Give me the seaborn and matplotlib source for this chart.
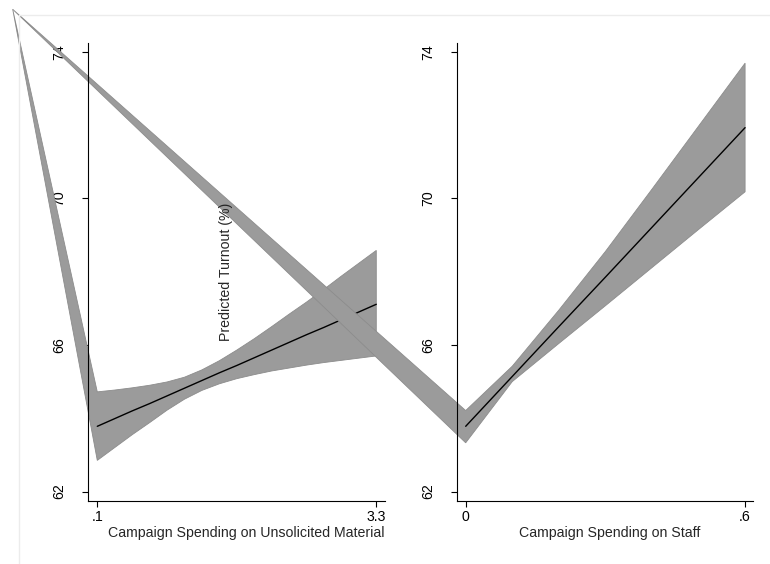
import matplotlib
matplotlib.use("Agg")
import matplotlib.pyplot as plt
import seaborn as sns
import pandas as pd
from matplotlib.patches import Polygon
from matplotlib.lines import Line2D

# Predicted turnout by campaign spending on unsolicited material
material_x = [0.1, 0.3, 0.5, 0.7, 0.9, 1.1, 1.3, 1.5, 1.7, 1.9, 2.1, 2.3, 2.5, 2.7, 2.9, 3.1, 3.3]
material_fit = [63.78, 63.99, 64.20, 64.40, 64.61, 64.82, 65.03, 65.24, 65.44, 65.65,
                65.86, 66.07, 66.28, 66.48, 66.69, 66.90, 67.11]
material_hi = [64.72, 64.77, 64.83, 64.90, 64.99, 65.12, 65.32, 65.57, 65.86, 66.17,
               66.50, 66.84, 67.17, 67.52, 67.88, 68.23, 68.58]
material_lo = [62.85, 63.20, 63.55, 63.88, 64.22, 64.52, 64.76, 64.94, 65.08, 65.19,
               65.29, 65.37, 65.45, 65.52, 65.58, 65.64, 65.70]

# Predicted turnout by campaign spending on staff
staff_x = [0.0, 0.1, 0.2, 0.3, 0.4, 0.5, 0.6]
staff_fit = [63.78, 65.14, 66.50, 67.85, 69.21, 70.57, 71.93]
staff_hi = [64.21, 65.42, 66.95, 68.55, 70.25, 71.97, 73.69]
staff_lo = [63.33, 65.00, 66.04, 67.07, 68.11, 69.15, 70.18]

y_ticks = [62, 66, 70, 74]
material_ticks = [0.1, 3.3]
material_ticklabels = [".1", "3.3"]
staff_ticks = [0.0, 0.6]
staff_ticklabels = ["0", ".6"]

sns.set_style("white")
plt.rcParams["font.family"] = ["Liberation Sans", "DejaVu Sans"]
plt.rcParams["font.size"] = 10.2

W, H = 770, 564
fig = plt.figure(figsize=(W / 100, H / 100), dpi=100)

# faint outer graph-region frame
fig.add_artist(Line2D([19 / W, 19 / W, 1.0], [0.0, 1 - 15 / H, 1 - 15 / H],
                      transform=fig.transFigure, color="#ececec", lw=1.0))

ax1 = fig.add_axes([87.7 / W, 1 - 500.7 / H, 297.3 / W, 457.7 / H])
ax2 = fig.add_axes([456.7 / W, 1 - 500.7 / H, 296.3 / W, 457.7 / H])
ax2.set_facecolor("none")

X1 = (-0.01, 3.40)
X2 = (-0.0193, 0.617)
Y = (61.75, 74.24)
ax1.set_xlim(*X1)
ax2.set_xlim(*X2)
for ax in (ax1, ax2):
    ax.set_ylim(*Y)

# shared stray vertex of the shaded bands (figure fraction)
CORNER = (12.7 / W, 1 - 9.3 / H)


def band_vertices(ax, x, lo, hi):
    corner = ax.transData.inverted().transform(fig.transFigure.transform(CORNER))
    pts = [tuple(corner)]
    pts += list(zip(x, hi))
    pts += list(zip(x[::-1], lo[::-1]))
    return pts


band_face = "#9b9b9b"
band_edge = "#8c8c8c"

p1 = Polygon(band_vertices(ax1, material_x, material_lo, material_hi), closed=True,
             facecolor=band_face, edgecolor=band_edge, lw=0.6, zorder=1, clip_on=False,
             joinstyle="miter")
ax1.add_patch(p1)

df1 = pd.DataFrame({"spend": material_x, "turnout": material_fit})
sns.lineplot(data=df1, x="spend", y="turnout", ax=ax1, color="black", lw=1.0, zorder=2)

# the staff band is drawn over the first panel's line but beneath its axis lines
p2 = Polygon(band_vertices(ax2, staff_x, staff_lo, staff_hi), closed=True,
             facecolor=band_face, edgecolor=band_edge, lw=0.6, zorder=2.2, clip_on=False,
             joinstyle="miter", transform=ax2.transData)
ax1.add_patch(p2)

df2 = pd.DataFrame({"spend": staff_x, "turnout": staff_fit})
sns.lineplot(data=df2, x="spend", y="turnout", ax=ax2, color="black", lw=1.0, zorder=2)

ax1.set_xlim(*X1)
ax2.set_xlim(*X2)
for ax, xt, xtl in ((ax1, material_ticks, material_ticklabels),
                    (ax2, staff_ticks, staff_ticklabels)):
    ax.set_ylim(*Y)
    ax.set(xlabel="", ylabel="")
    ax.set_xticks(xt)
    ax.set_xticklabels(xtl)
    ax.set_yticks(y_ticks)
    ax.set_yticklabels([str(v) for v in y_ticks], rotation=90, va="center")
    for side in ("top", "right"):
        ax.spines[side].set_visible(False)
    for side in ("left", "bottom"):
        ax.spines[side].set_color("black")
        ax.spines[side].set_linewidth(0.8)
    ax.tick_params(axis="y", direction="out", length=4.3, width=0.8, pad=11.5,
                   colors="black", left=True)
    ax.tick_params(axis="x", direction="out", length=4.0, width=0.8, pad=2.5,
                   colors="black", bottom=True)
    ax.grid(False)

fig.text(245.8 / W, 1 - 532.5 / H, "Campaign Spending on Unsolicited Material",
         ha="center", va="center")
fig.text(609.7 / W, 1 - 532.5 / H, "Campaign Spending on Staff",
         ha="center", va="center")
fig.text(226 / W, 1 - 272 / H, "Predicted Turnout (%)", rotation=90,
         ha="center", va="center")

fig.savefig("out.png", dpi=100, facecolor="white")
